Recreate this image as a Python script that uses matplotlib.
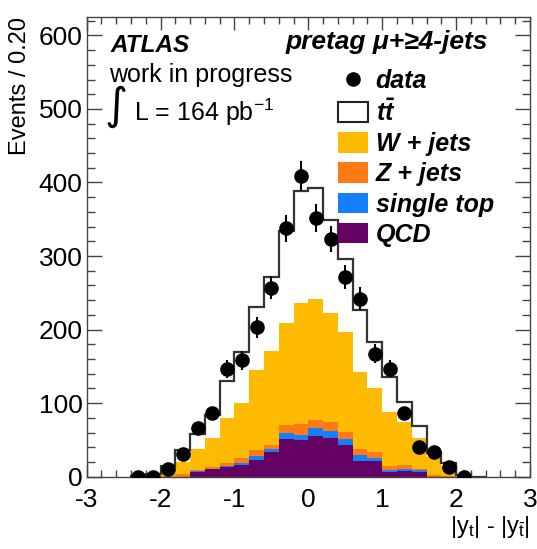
import numpy as np
import matplotlib
matplotlib.use("Agg")
import matplotlib.pyplot as plt
from matplotlib.ticker import MultipleLocator
from matplotlib.patches import Patch
from matplotlib.lines import Line2D

plt.rcParams["font.family"] = ["Liberation Sans", "DejaVu Sans"]
plt.rcParams["mathtext.fontset"] = "custom"
plt.rcParams["mathtext.rm"] = "Liberation Sans"
plt.rcParams["mathtext.it"] = "Liberation Sans:italic"
plt.rcParams["mathtext.bf"] = "Liberation Sans:bold"
plt.rcParams["mathtext.bfit"] = "Liberation Sans:bold:italic"

# binning of |y_t| - |y_tbar|, 0.20 per bin
bin_edges = np.round(np.arange(-2.4, 2.41, 0.2), 2)
bin_centers = 0.5 * (bin_edges[:-1] + bin_edges[1:])

# expected events per bin, per process (bottom of the stack first)
qcd = [0, 0, 0, 0, 7, 10, 13, 16, 23, 34, 51, 50, 56, 53, 43, 22, 21, 6, 8, 7, 0, 0, 0, 0]
single_top = [0, 0, 0, 0, 1, 1, 2, 3, 5, 3, 8, 7, 10, 9, 8, 7, 5, 2.5, 3, 2, 0, 0, 0, 0]
z_jets = [0, 0, 1, 3, 1, 2, 3, 6, 8, 6, 11, 15, 11, 12, 10, 8, 7, 6.5, 5, 2, 2, 1, 0, 0]
w_jets = [0, 1, 2, 17, 29, 40, 62, 75, 109, 128, 139, 164, 165, 148, 136, 106, 87, 73, 59, 41, 25, 13, 2, 0]
ttbar = [0.5, 2, 11, 16, 20, 31, 50, 70, 86, 101, 125, 153, 150, 127, 99, 84, 63, 47, 27, 17, 5, 4, 0, 0]

# observed events
data_x = [-2.3, -2.1, -1.9, -1.7, -1.5, -1.3, -1.1, -0.9, -0.7, -0.5, -0.3, -0.1,
          0.1, 0.3, 0.5, 0.7, 0.9, 1.1, 1.3, 1.5, 1.7, 1.9, 2.1]
data_y = [0, 0, 11, 31, 66, 86, 146, 158, 203, 257, 338, 409,
          352, 323, 271, 242, 167, 147, 86, 40, 33, 13, 0]

x_ticks = [-3, -2, -1, 0, 1, 2, 3]
y_ticks = [0, 100, 200, 300, 400, 500, 600]

processes = [
    ("QCD", qcd, "#650065"),
    ("single top", single_top, "#1480ff"),
    ("Z + jets", z_jets, "#ff7a12"),
    ("W + jets", w_jets, "#ffbb00"),
    (r"$\mathbfit{t\bar{t}}$", ttbar, "white"),
]

W, H = 537, 549
fig = plt.figure(figsize=(W / 100, H / 100), dpi=100)
ax = fig.add_axes([86.7 / W, 1 - 476.7 / H, (530 - 86.7) / W, (476.7 - 17) / H])

base = np.zeros(len(bin_centers))
for name, vals, col in processes:
    top = base + np.asarray(vals, dtype=float)
    ax.stairs(top, bin_edges, baseline=base.copy(), fill=True, color=col, lw=0, zorder=2)
    base = top
total = base
ax.stairs(total, bin_edges, baseline=0, color="#333333", lw=1.6, zorder=3)

yerr = np.sqrt(np.asarray(data_y, dtype=float))
ax.errorbar(data_x, data_y, yerr=yerr, fmt="o", color="black", ms=9.5,
            elinewidth=1.5, capsize=0, zorder=4)

ax.set_xlim(-3, 3)
ax.set_ylim(0, 625)
ax.set_xticks(x_ticks)
ax.set_yticks(y_ticks)
ax.set_xticklabels([str(t) for t in x_ticks])
ax.xaxis.set_minor_locator(MultipleLocator(0.2))
ax.yaxis.set_minor_locator(MultipleLocator(20))
ax.tick_params(which="both", direction="in", top=True, right=True,
               color="#444444", width=1.0, labelsize=19)
ax.tick_params(axis="x", which="major", length=9, pad=8)
ax.tick_params(axis="x", which="minor", length=5)
ax.tick_params(axis="y", which="major", length=10.5, pad=3)
ax.tick_params(axis="y", which="minor", length=5.5)
for s in ax.spines.values():
    s.set_color("#444444")
    s.set_linewidth(1.0)

def px(x, y):
    return x / W, 1 - y / H

fig.text(*px(20, 17), "Events / 0.20", rotation=90, ha="center", va="top", fontsize=17)
fig.text(*px(530, 527), r"|y$_{\mathrm{t}}$| - |y$_{\bar{\mathrm{t}}}$|",
         ha="right", va="center", fontsize=17)

fig.text(*px(110, 45), "ATLAS", fontsize=17.5, fontweight="bold", fontstyle="italic",
         ha="left", va="center")
fig.text(*px(488, 42), "pretag μ+≥4-jets", fontsize=19, fontweight="bold",
         fontstyle="italic", ha="right", va="center")
fig.text(*px(109, 75), "work in progress", fontsize=18, ha="left", va="center")
fig.text(*px(116, 106), "∫", fontsize=32, ha="center", va="center",
         family=["DejaVu Sans"])
fig.text(*px(134, 112), r"L = 164 pb$^{\mathrm{-1}}$", fontsize=18, ha="left", va="center")

handles = [Line2D([], [], marker="o", ls="none", color="black", ms=9.5)]
labels = ["data"]
for name, vals, col in reversed(processes):
    if col == "white":
        handles.append(Patch(facecolor="white", edgecolor="#222222", lw=1.5))
    else:
        handles.append(Patch(facecolor=col, edgecolor="none"))
    labels.append(name)

leg = ax.legend(handles, labels, loc="upper left", bbox_to_anchor=px(338, 69),
                bbox_transform=fig.transFigure, frameon=False, borderpad=0,
                borderaxespad=0, handlelength=1.2, handleheight=0.88,
                handletextpad=0.3, labelspacing=0.25,
                prop={"size": 18, "weight": "bold", "style": "italic"})

fig.savefig("out.png", dpi=100)
